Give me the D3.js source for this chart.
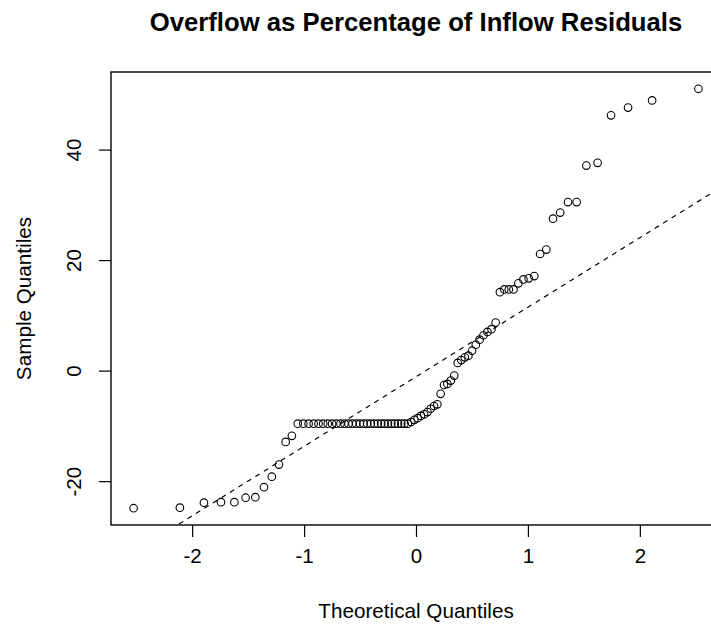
<!DOCTYPE html>
<html>
<head>
<meta charset="utf-8">
<script src="https://cdn.jsdelivr.net/npm/d3@7"></script>
<style>
  body { margin: 0; background: #fff; }
  text { font-family: "Liberation Sans", Arial, sans-serif; fill: #000; }
</style>
</head>
<body>
<div id="chart"></div>
<script>
// sorted sample values (residuals)
const sampleValues = [
  -24.9, -24.8, -23.9, -23.8, -23.8, -23.0, -22.9, -21.1, -19.2, -17.0,
  -12.9, -11.8,
  -9.6, -9.6, -9.6, -9.6, -9.6, -9.6, -9.6, -9.6, -9.6, -9.6,
  -9.6, -9.6, -9.6, -9.6, -9.6, -9.6, -9.6, -9.6, -9.6, -9.6,
  -9.6, -9.6, -9.6, -9.6, -9.6, -9.6, -9.6, -9.6, -9.6,
  -9.3, -8.9, -8.6, -8.2, -7.9, -7.5, -6.9, -6.4, -6.1, -4.2,
  -2.6, -2.4, -1.8, -0.9, 1.4, 1.9, 2.4, 2.7, 3.6, 4.7,
  5.6, 6.4, 7.0, 7.5, 8.7,
  14.2, 14.7, 14.7, 14.7, 15.8, 16.5, 16.7, 17.1, 21.1, 21.9,
  27.5, 28.6, 30.5, 30.5, 37.1, 37.6, 46.2, 47.6, 48.9, 51.0
];
const xTicks = [-2, -1, 0, 1, 2];
const yTicks = [-20, 0, 20, 40];
const titleText = "Overflow as Percentage of Inflow Residuals";
const xLabel = "Theoretical Quantiles";
const yLabel = "Sample Quantiles";

// inverse normal cdf (Acklam)
function qnorm(p) {
  const a = [-3.969683028665376e+01, 2.209460984245205e+02, -2.759285104469687e+02,
             1.383577518672690e+02, -3.066479806614716e+01, 2.506628277459239e+00];
  const b = [-5.447609879822406e+01, 1.615858368580409e+02, -1.556989798598866e+02,
             6.680131188771972e+01, -1.328068155288572e+01];
  const c = [-7.784894002430293e-03, -3.223964580411365e-01, -2.400758277161838e+00,
             -2.549732539343734e+00, 4.374664141464968e+00, 2.938163982698783e+00];
  const d = [7.784695709041462e-03, 3.224671290700398e-01, 2.445134137142996e+00,
             3.754408661907416e+00];
  const pl = 0.02425;
  let q, r;
  if (p < pl) {
    q = Math.sqrt(-2 * Math.log(p));
    return (((((c[0]*q+c[1])*q+c[2])*q+c[3])*q+c[4])*q+c[5]) / ((((d[0]*q+d[1])*q+d[2])*q+d[3])*q+1);
  } else if (p <= 1 - pl) {
    q = p - 0.5; r = q * q;
    return (((((a[0]*r+a[1])*r+a[2])*r+a[3])*r+a[4])*r+a[5])*q / (((((b[0]*r+b[1])*r+b[2])*r+b[3])*r+b[4])*r+1);
  } else {
    q = Math.sqrt(-2 * Math.log(1 - p));
    return -(((((c[0]*q+c[1])*q+c[2])*q+c[3])*q+c[4])*q+c[5]) / ((((d[0]*q+d[1])*q+d[2])*q+d[3])*q+1);
  }
}

const n = sampleValues.length;
const points = sampleValues.map((v, i) => ({ x: qnorm((i + 0.5) / n), y: v }));

const W = 711, H = 627;
const margin = { top: 72, right: -10, bottom: 102, left: 111 };
const width = W - margin.left - margin.right;
const height = H - margin.top - margin.bottom;

// R style 4% axis extension
function extend(ext) {
  const pad = (ext[1] - ext[0]) * 0.04;
  return [ext[0] - pad, ext[1] + pad];
}

const xScale = d3.scaleLinear().domain(extend(d3.extent(points, d => d.x))).range([0, width]);
const yScale = d3.scaleLinear().domain(extend(d3.extent(points, d => d.y))).range([height, 0]);

const svg = d3.select("#chart")
  .append("svg")
  .attr("width", W)
  .attr("height", H);

const g = svg.append("g")
  .attr("transform", `translate(${margin.left},${margin.top})`);

svg.append("defs").append("clipPath")
  .attr("id", "plotClip")
  .append("rect")
  .attr("width", width)
  .attr("height", height);

// qqline through the quartiles
const q1 = d3.quantile(sampleValues, 0.25);
const q3 = d3.quantile(sampleValues, 0.75);
const slope = (q3 - q1) / (qnorm(0.75) - qnorm(0.25));
const intercept = q1 - slope * qnorm(0.25);
const xd = xScale.domain();

g.append("line")
  .attr("clip-path", "url(#plotClip)")
  .attr("x1", xScale(xd[0]))
  .attr("y1", yScale(intercept + slope * xd[0]))
  .attr("x2", xScale(xd[1]))
  .attr("y2", yScale(intercept + slope * xd[1]))
  .attr("stroke", "#000")
  .attr("stroke-width", 1.2)
  .attr("stroke-dasharray", "5,5");

g.selectAll(".point")
  .data(points)
  .enter()
  .append("circle")
  .attr("class", "point")
  .attr("cx", d => xScale(d.x))
  .attr("cy", d => yScale(d.y))
  .attr("r", 3.8)
  .attr("fill", "none")
  .attr("stroke", "#000")
  .attr("stroke-width", 1.1);

// box
g.append("rect")
  .attr("width", width)
  .attr("height", height)
  .attr("fill", "none")
  .attr("stroke", "#000")
  .attr("stroke-width", 1.4);

const xAxis = d3.axisBottom(xScale).tickValues(xTicks).tickSize(12).tickPadding(8)
  .tickFormat(d => String(d));
const yAxis = d3.axisLeft(yScale).tickValues(yTicks).tickSize(12).tickPadding(8)
  .tickFormat(d => String(d));

const gx = g.append("g")
  .attr("class", "x-axis")
  .attr("transform", `translate(0,${height})`)
  .call(xAxis);
gx.select(".domain").remove();
gx.selectAll("line").attr("stroke", "#000").attr("stroke-width", 1.2);
gx.selectAll("text")
  .attr("font-size", "20.5px")
  .attr("dy", null)
  .attr("y", 38);

const gy = g.append("g")
  .attr("class", "y-axis")
  .call(yAxis);
gy.select(".domain").remove();
gy.selectAll("line").attr("stroke", "#000").attr("stroke-width", 1.2);
gy.selectAll("text")
  .attr("font-size", "20.5px")
  .attr("x", null)
  .attr("dy", null)
  .attr("text-anchor", "middle")
  .attr("transform", "translate(-30,0) rotate(-90)");

svg.append("text")
  .attr("x", 416)
  .attr("y", 31)
  .attr("text-anchor", "middle")
  .attr("font-size", "25.7px")
  .attr("font-weight", "bold")
  .text(titleText);

svg.append("text")
  .attr("x", 416)
  .attr("y", 618)
  .attr("text-anchor", "middle")
  .attr("font-size", "20.7px")
  .text(xLabel);

svg.append("text")
  .attr("transform", `translate(31,${margin.top + height / 2}) rotate(-90)`)
  .attr("text-anchor", "middle")
  .attr("font-size", "20.7px")
  .text(yLabel);
</script>
</body>
</html>
